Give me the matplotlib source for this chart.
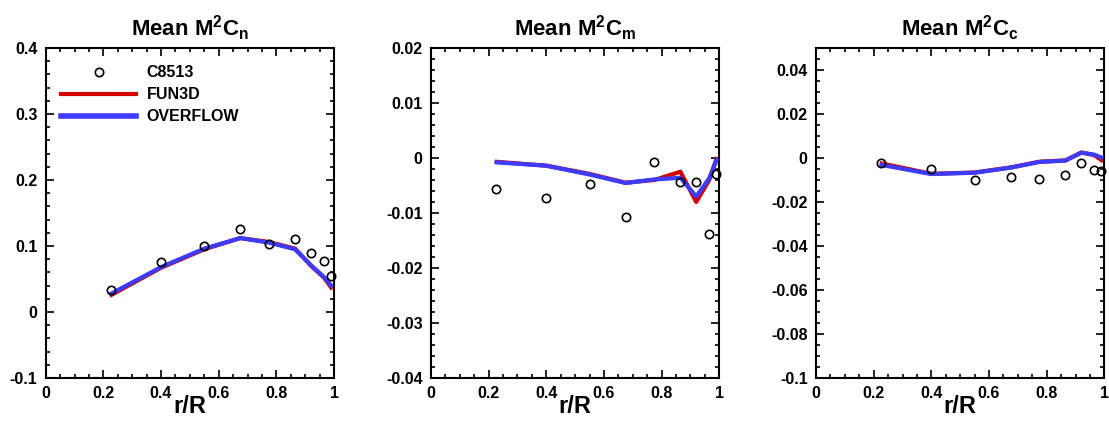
import matplotlib
matplotlib.use("Agg")
import matplotlib.pyplot as plt
from matplotlib.ticker import MultipleLocator, FuncFormatter

plt.rcParams["font.family"] = ["Liberation Sans", "DejaVu Sans"]
plt.rcParams["font.weight"] = "bold"
plt.rcParams["axes.unicode_minus"] = False
plt.rcParams["mathtext.fontset"] = "custom"
plt.rcParams["mathtext.rm"] = "Liberation Sans:bold"
plt.rcParams["mathtext.it"] = "Liberation Sans:bold"
plt.rcParams["mathtext.bf"] = "Liberation Sans:bold"

# radial stations (r/R)
r_test = [0.225, 0.40, 0.55, 0.675, 0.775, 0.865, 0.92, 0.965, 0.99]
r_cfd = [0.228, 0.40, 0.55, 0.675, 0.775, 0.865, 0.92, 0.965, 0.99]

# Mean M^2 Cn
cn_test = [0.033, 0.076, 0.100, 0.1256, 0.103, 0.110, 0.089, 0.0775, 0.054]
cn_fun3d = [0.026, 0.067, 0.095, 0.112, 0.106, 0.096, 0.070, 0.052, 0.037]
cn_overflow = [0.028, 0.068, 0.096, 0.112, 0.105, 0.095, 0.071, 0.053, 0.040]

# Mean M^2 Cm
cm_test = [-0.00565, -0.00735, -0.00474, -0.0107, -0.00073, -0.0043, -0.0043, -0.01385, -0.0030]
cm_fun3d = [-0.0007, -0.0014, -0.0029, -0.0045, -0.0040, -0.0025, -0.0080, -0.0040, -0.0002]
cm_overflow = [-0.0008, -0.0014, -0.0030, -0.00455, -0.0039, -0.0036, -0.0070, -0.0037, -0.0004]

# Mean M^2 Cc
cc_test = [-0.0023, -0.0050, -0.0102, -0.0085, -0.0096, -0.0079, -0.0021, -0.0056, -0.0059]
cc_fun3d = [-0.0025, -0.0072, -0.0066, -0.0043, -0.0017, -0.0011, 0.0025, 0.0013, -0.0010]
cc_overflow = [-0.0032, -0.0073, -0.0067, -0.0044, -0.0018, -0.0012, 0.0024, 0.0015, 0.0002]

panels = [
    ("Mean M$^{2}$C$_{n}$", cn_test, cn_fun3d, cn_overflow, (-0.1, 0.4), 0.1, 0.02),
    ("Mean M$^{2}$C$_{m}$", cm_test, cm_fun3d, cm_overflow, (-0.04, 0.02), 0.01, 0.002),
    ("Mean M$^{2}$C$_{c}$", cc_test, cc_fun3d, cc_overflow, (-0.1, 0.05), 0.02, 0.005),
]
lefts = [0.0412, 0.3886, 0.7358]

RED = "#d40000"
BLUE = "#3c3cff"

fig = plt.figure(figsize=(11.09, 4.21), dpi=100)
fmt = FuncFormatter(lambda v, p: "%g" % (round(v, 6) + 0.0))

for i, (title, test, fun3d, overflow, ylim, major, minor) in enumerate(panels):
    ax = fig.add_axes([lefts[i], 0.1021, 0.260, 0.784])
    ax.plot(r_cfd, fun3d, color=RED, lw=3.0, label="FUN3D", zorder=2)
    ax.plot(r_cfd, overflow, color=BLUE, lw=3.0, label="OVERFLOW", zorder=3)
    ax.plot(r_test, test, "o", ms=6, mfc="none", mec="black", mew=1.2,
            label="C8513", zorder=4, clip_on=False)
    ax.set_xlim(0, 1)
    ax.set_ylim(*ylim)
    ax.xaxis.set_major_locator(MultipleLocator(0.2))
    ax.xaxis.set_minor_locator(MultipleLocator(0.05))
    ax.yaxis.set_major_locator(MultipleLocator(major))
    ax.yaxis.set_minor_locator(MultipleLocator(minor))
    ax.xaxis.set_major_formatter(fmt)
    ax.yaxis.set_major_formatter(fmt)
    ax.tick_params(which="both", direction="in", top=True, right=True,
                   labelsize=11.5, width=1.2)
    ax.tick_params(which="major", length=6, pad=6)
    ax.tick_params(which="minor", length=3)
    for s in ax.spines.values():
        s.set_linewidth(1.5)
    ax.set_title(title, fontsize=16, fontweight="bold", pad=9)
    ax.set_xlabel("r/R", fontsize=17, fontweight="bold")
    ax.xaxis.set_label_coords(0.5, -0.085)
    ax.xaxis.label.set_verticalalignment("center")

    if i == 0:
        h, l = ax.get_legend_handles_labels()
        order = [2, 0, 1]
        leg = ax.legend([h[k] for k in order], [l[k] for k in order],
                        loc="upper left", bbox_to_anchor=(0.053, 0.948),
                        frameon=False, fontsize=11.5, handlelength=4.7,
                        handletextpad=0.65, labelspacing=0.45, borderpad=0,
                        borderaxespad=0, numpoints=1)
        leg.get_lines()[2].set_linewidth(4)

fig.savefig("out.png", dpi=100)
